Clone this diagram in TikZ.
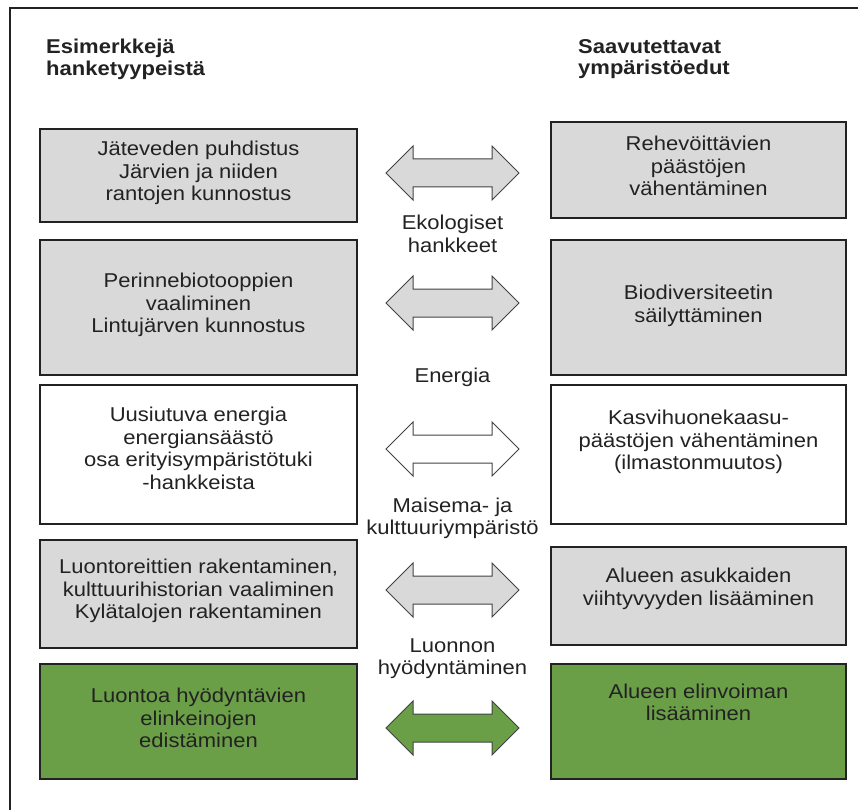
\documentclass[tikz,border=0pt]{standalone}
\usepackage{fontspec}
\setmainfont[FakeStretch=1.1]{Liberation Sans}
\usetikzlibrary{positioning}

\definecolor{boxgray}{HTML}{D9D9D9}
\definecolor{boxgreen}{HTML}{6A9F48}
\definecolor{ink}{HTML}{222222}

\begin{document}
\begin{tikzpicture}[x=1pt, y=-1pt, font=\fontsize{20}{22.5}\selectfont,
  box/.style={draw=ink, line width=1.2pt, inner sep=0pt},
  lbox/.style={box, minimum width=317pt},
  rbox/.style={box, minimum width=295pt},
  txt/.style={align=center, text=ink, inner sep=0pt},
  head/.style={align=left, text=ink, anchor=north west, inner sep=0pt,
    font=\fontsize{20}{21.5}\selectfont\bfseries},
  biarrow/.style={draw=ink!85, line width=1pt, line join=miter}]
  \useasboundingbox (0,0) rectangle (858,810);
  \draw[ink, line width=1.5pt] (10,810) -- (10,8) -- (858,8);

  % otsikot
  \node[head] (hanke) at (46,39) {Esimerkkejä\\hanketyypeistä};
  \node[head] (edut) at (578,39) {Saavutettavat\\ympäristöedut};

  % vasen sarake
  \node[lbox, fill=boxgray, minimum height=93pt] (l1) at (198.5,175.5) {};
  \node[lbox, fill=boxgray, minimum height=135pt] (l2) at (198.5,307.5) {};
  \node[lbox, fill=white, minimum height=139pt] (l3) at (198.5,454.5) {};
  \node[lbox, fill=boxgray, minimum height=108pt] (l4) at (198.5,594) {};
  \node[lbox, fill=boxgreen, minimum height=115pt] (l5) at (198.5,721.5) {};
  \node[txt] (l1t) at (198.5,173) {Jäteveden puhdistus\\Järvien ja niiden\\rantojen kunnostus};
  \node[txt] (l2t) at (198.5,305) {Perinnebiotooppien\\vaaliminen\\Lintujärven kunnostus};
  \node[txt] (l3t) at (198.5,448.5) {Uusiutuva energia\\energiansäästö\\osa erityisympäristötuki\\-hankkeista};
  \node[txt] (l4t) at (198.5,591) {Luontoreittien rakentaminen,\\kulttuurihistorian vaaliminen\\Kylätalojen rakentaminen};
  \node[txt] (l5t) at (198.5,718) {Luontoa hyödyntävien\\elinkeinojen\\edistäminen};

  % oikea sarake
  \node[rbox, fill=boxgray, minimum height=96pt] (r1) at (698.5,170) {};
  \node[rbox, fill=boxgray, minimum height=135pt] (r2) at (698.5,307.5) {};
  \node[rbox, fill=white, minimum height=139pt] (r3) at (698.5,454.5) {};
  \node[rbox, fill=boxgray, minimum height=98pt] (r4) at (698.5,596) {};
  \node[rbox, fill=boxgreen, minimum height=115pt] (r5) at (698.5,721.5) {};
  \node[txt] (r1t) at (698.5,166) {Rehevöittävien\\päästöjen\\vähentäminen};
  \node[txt] (r2t) at (698.5,306) {Biodiversiteetin\\säilyttäminen};
  \node[txt] (r3t) at (698.5,442) {Kasvihuonekaasu-\\päästöjen vähentäminen\\(ilmastonmuutos)};
  \node[txt] (r4t) at (698.5,589) {Alueen asukkaiden\\viihtyvyyden lisääminen};
  \node[txt] (r5t) at (698.5,702.5) {Alueen elinvoiman\\lisääminen};

  % nuolet
  \foreach \y/\c in {173/boxgray, 303/boxgray, 449/white, 590/boxgray, 728/boxgreen}
    \draw[biarrow, fill=\c] (386,\y) -- (413,\y-27) -- (413,\y-14) -- (492,\y-14)
      -- (492,\y-27) -- (519,\y) -- (492,\y+27) -- (492,\y+14) -- (413,\y+14)
      -- (413,\y+27) -- cycle;

  % hanketyypit
  \node[txt] (eko) at (452.5,234) {Ekologiset\\hankkeet};
  \node[txt] (ene) at (452.5,377) {Energia};
  \node[txt] (mai) at (452.5,518.5) {Maisema- ja\\kulttuuriympäristö};
  \node[txt] (luo) at (452.5,658.5) {Luonnon\\hyödyntäminen};
\end{tikzpicture}
\end{document}
